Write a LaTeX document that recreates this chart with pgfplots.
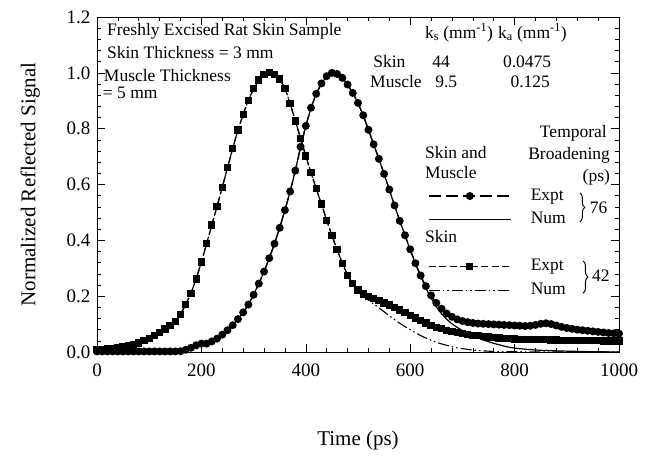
\documentclass[border=0pt]{standalone}
\usepackage{fontspec}
\setmainfont{Liberation Serif}
\usepackage{pgfplots}
\usepackage{pgfplotstable}
\pgfplotsset{compat=1.18}
\usetikzlibrary{decorations.pathreplacing}
\newcommand\af{\fontsize{17.5}{21}\selectfont}

\pgfplotstableread{
t v
0 0.010
10 0.010
20 0.011
30 0.013
40 0.015
50 0.018
60 0.021
70 0.026
80 0.032
90 0.040
100 0.049
110 0.059
120 0.070
130 0.082
140 0.095
150 0.110
160 0.135
170 0.170
180 0.210
190 0.262
200 0.322
210 0.388
220 0.455
230 0.522
240 0.590
250 0.660
260 0.730
270 0.795
280 0.852
290 0.902
300 0.943
310 0.974
320 0.993
330 1.000
340 0.995
350 0.978
360 0.945
370 0.890
380 0.828
390 0.765
400 0.702
410 0.642
420 0.585
430 0.530
440 0.472
450 0.418
460 0.366
470 0.318
480 0.275
490 0.245
500 0.222
510 0.208
520 0.200
530 0.192
540 0.184
550 0.176
560 0.168
570 0.160
580 0.150
590 0.141
600 0.132
610 0.122
620 0.113
630 0.104
640 0.096
650 0.089
660 0.083
670 0.078
680 0.073
690 0.069
700 0.066
710 0.063
720 0.060
730 0.058
740 0.056
750 0.054
760 0.052
770 0.050
780 0.049
790 0.048
800 0.047
810 0.046
820 0.046
830 0.045
840 0.045
850 0.044
860 0.044
870 0.043
880 0.043
890 0.042
900 0.042
910 0.041
920 0.041
930 0.041
940 0.040
950 0.040
960 0.040
970 0.039
980 0.039
990 0.039
1000 0.039
}\skinexpt

\pgfplotstableread{
t v
0 0.002
10 0.002
20 0.002
30 0.002
40 0.002
50 0.002
60 0.002
70 0.002
80 0.002
90 0.002
100 0.002
110 0.002
120 0.002
130 0.002
140 0.002
150 0.002
160 0.003
170 0.008
180 0.015
190 0.024
200 0.030
210 0.030
220 0.038
230 0.048
240 0.062
250 0.078
260 0.096
270 0.118
280 0.142
290 0.170
300 0.205
310 0.245
320 0.288
330 0.336
340 0.388
350 0.445
360 0.508
370 0.575
380 0.650
390 0.735
400 0.810
410 0.875
420 0.925
430 0.962
440 0.988
450 1.000
460 0.996
470 0.982
480 0.958
490 0.928
500 0.892
510 0.848
520 0.796
530 0.744
540 0.692
550 0.638
560 0.582
570 0.525
580 0.470
590 0.418
600 0.368
610 0.318
620 0.274
630 0.236
640 0.203
650 0.176
660 0.155
670 0.138
680 0.126
690 0.117
700 0.111
710 0.107
720 0.104
730 0.102
740 0.101
750 0.100
760 0.099
770 0.098
780 0.097
790 0.096
800 0.095
810 0.094
820 0.093
830 0.094
840 0.097
850 0.101
860 0.103
870 0.100
880 0.095
890 0.090
900 0.086
910 0.083
920 0.080
930 0.078
940 0.076
950 0.074
960 0.072
970 0.070
980 0.068
990 0.067
1000 0.066
}\muscleexpt

\pgfplotstableread{
t v
0 0.000
100 0.000
150 0.000
160 0.001
170 0.004
180 0.009
190 0.016
200 0.024
210 0.030
220 0.038
230 0.048
240 0.062
250 0.078
260 0.096
270 0.118
280 0.142
290 0.170
300 0.205
310 0.245
320 0.288
330 0.336
340 0.388
350 0.445
360 0.508
370 0.575
380 0.650
390 0.735
400 0.810
410 0.875
420 0.925
430 0.962
440 0.988
450 1.000
460 0.996
470 0.982
480 0.958
490 0.928
500 0.892
510 0.848
520 0.796
530 0.744
540 0.692
550 0.638
560 0.582
570 0.525
580 0.470
590 0.418
600 0.366
610 0.316
620 0.270
630 0.229
640 0.193
650 0.162
660 0.137
670 0.117
680 0.101
690 0.088
700 0.077
710 0.067
720 0.058
730 0.050
740 0.043
750 0.037
760 0.031
770 0.026
780 0.021
790 0.017
800 0.014
820 0.010
850 0.006
900 0.003
950 0.001
1000 0.000
}\musclenum

\pgfplotstableread{
t v
0 0.010
50 0.018
100 0.049
150 0.110
160 0.135
170 0.170
180 0.210
190 0.262
200 0.322
210 0.388
220 0.455
230 0.522
240 0.590
250 0.660
260 0.730
270 0.795
280 0.852
290 0.902
300 0.943
310 0.974
320 0.993
330 1.000
340 0.995
350 0.978
360 0.945
370 0.890
380 0.828
390 0.765
400 0.702
410 0.642
420 0.585
430 0.530
440 0.472
450 0.418
460 0.366
470 0.318
480 0.275
490 0.243
500 0.215
510 0.200
520 0.186
530 0.172
540 0.158
550 0.144
560 0.130
570 0.116
580 0.103
590 0.091
600 0.080
610 0.069
620 0.059
630 0.050
640 0.042
650 0.035
660 0.029
670 0.024
680 0.019
690 0.015
700 0.012
720 0.007
740 0.004
760 0.002
800 0.001
850 0.000
1000 0.000
}\skinnum

\begin{document}
\begin{tikzpicture}
\begin{axis}[
  width=522pt, height=335pt, scale only axis,
  xmin=0, xmax=1000, ymin=0, ymax=1.2,
  xtick={0,200,400,600,800,1000},
  ytick={0,0.2,0.4,0.6,0.8,1.0,1.2},
  minor x tick num=4, minor y tick num=4,
  tick align=inside,
  major tick length=8pt, minor tick length=4pt,
  axis line style={line width=0.8pt},
  every tick/.style={black, line width=0.6pt},
  /pgf/number format/assume math mode=true,
  /pgf/number format/1000 sep={},
  ticklabel style={font=\fontsize{19}{22}\selectfont},
  xticklabel style={yshift=-8pt},
  yticklabel style={xshift=-3pt, /pgf/number format/.cd, fixed, fixed zerofill, precision=1},
  xlabel={Time (ps)},
  ylabel={Normalized Reflected Signal},
  every axis x label/.style={at={(axis description cs:0.5,-0.263)}, anchor=center, font=\fontsize{21}{25}\selectfont},
  every axis y label/.style={at={(axis description cs:-0.128,0.5)}, anchor=center, rotate=90, font=\fontsize{21}{25}\selectfont},
  legend image code/.code={\draw[mark repeat=2,mark phase=2,#1] plot coordinates {(0pt,0pt) (41pt,0pt) (82pt,0pt)}; \path[draw=none,fill=none] (0pt,0pt) -- (102pt,0pt);},
  legend cell align=left,
  legend style={at={(axis cs:634,0.588)}, anchor=north west, draw=none, fill=none, inner sep=0pt, row sep=7.5pt,
    font=\af, nodes={inner sep=0pt, text height=12pt, text depth=4pt}},
]
\addplot[black, line width=1.3pt, dash pattern=on 12pt off 5pt, mark=*, mark size=3.3pt, mark options={solid}] table[x=t,y=v] {\muscleexpt};
\addlegendentry{Expt}
\addplot[black, line width=1.2pt] table[x=t,y=v] {\musclenum};
\addlegendentry{Num}
\addlegendimage{empty legend}
\addlegendentry{}
\addplot[black, line width=1.3pt, dash pattern=on 7pt off 3.5pt, mark=square*, mark size=3pt, mark options={solid}] table[x=t,y=v] {\skinexpt};
\addlegendentry{Expt}
\addplot[black, line width=1.1pt, dash pattern=on 11pt off 3pt on 1.5pt off 3pt on 1.5pt off 3pt] table[x=t,y=v] {\skinnum};
\addlegendentry{Num}

\node[anchor=west, inner sep=0pt, font=\af] at (axis cs:19,1.147) {Freshly Excised Rat Skin Sample};
\node[anchor=west, inner sep=0pt, font=\af] at (axis cs:19,1.072) {Skin Thickness = 3 mm};
\node[anchor=west, inner sep=0pt, font=\af] at (axis cs:13,0.989) {Muscle Thickness};
\node[anchor=west, inner sep=0pt, font=\af] at (axis cs:11,0.928) {= 5 mm};

\node[anchor=west, inner sep=0pt, font=\af] at (axis cs:628,1.143) {k\textsubscript{s} (mm\textsuperscript{-1})};
\node[anchor=west, inner sep=0pt, font=\af] at (axis cs:768,1.143) {k\textsubscript{a} (mm\textsuperscript{-1})};
\node[anchor=west, inner sep=0pt, font=\af] at (axis cs:529,1.039) {Skin};
\node[anchor=west, inner sep=0pt, font=\af] at (axis cs:523,0.968) {Muscle};
\node[inner sep=0pt, font=\af] at (axis cs:659,1.039) {44};
\node[inner sep=0pt, font=\af] at (axis cs:824,1.039) {0.0475};
\node[inner sep=0pt, font=\af] at (axis cs:669,0.968) {9.5};
\node[inner sep=0pt, font=\af] at (axis cs:830,0.968) {0.125};

\node[anchor=east, inner sep=0pt, font=\af] at (axis cs:977,0.785) {Temporal};
\node[anchor=east, inner sep=0pt, font=\af] at (axis cs:983,0.706) {Broadening};
\node[anchor=east, inner sep=0pt, font=\af] at (axis cs:983,0.627) {(ps)};
\node[anchor=west, inner sep=0pt, font=\af] at (axis cs:628,0.713) {Skin and};
\node[anchor=west, inner sep=0pt, font=\af] at (axis cs:628,0.642) {Muscle};
\node[anchor=west, inner sep=0pt, font=\af] at (axis cs:628,0.412) {Skin};

\draw[line width=1pt, decorate, decoration={brace, amplitude=5pt}] (axis cs:925,0.570) -- (axis cs:925,0.466);
\draw[line width=1pt, decorate, decoration={brace, amplitude=5pt}] (axis cs:931,0.326) -- (axis cs:931,0.211);
\node[anchor=west, inner sep=0pt, font=\af] at (axis cs:944,0.516) {76};
\node[anchor=west, inner sep=0pt, font=\af] at (axis cs:948,0.272) {42};
\end{axis}
\pgfresetboundingbox
\path[use as bounding box] (-97pt,-106pt) rectangle (555pt,352pt);
\end{tikzpicture}
\end{document}
